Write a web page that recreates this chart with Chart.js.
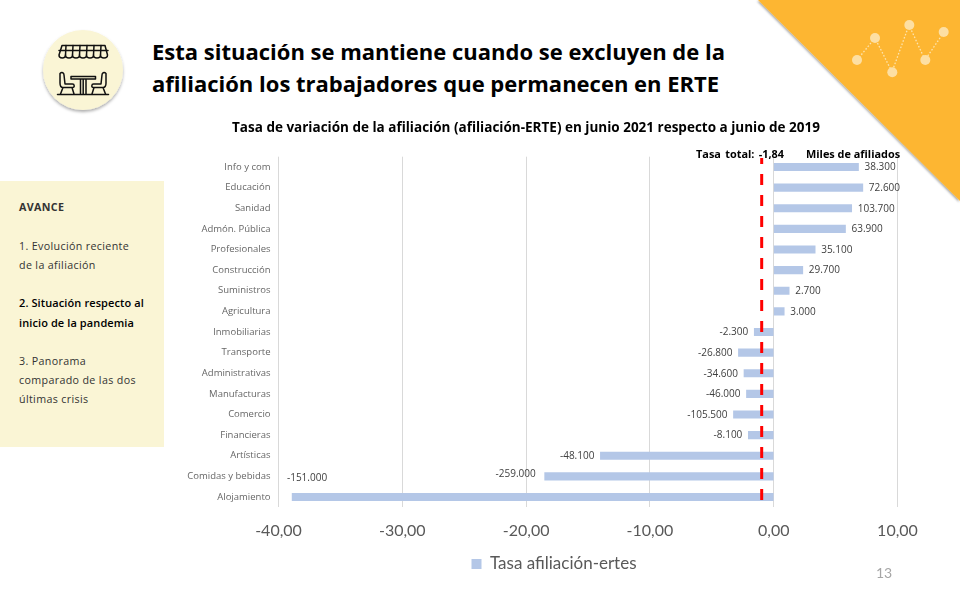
<!DOCTYPE html>
<html lang="es">
<head>
<meta charset="utf-8">
<script src="https://cdn.jsdelivr.net/npm/chart.js@4"></script>
<style>
html,body{margin:0;padding:0;background:#fff;width:960px;height:600px;overflow:hidden}
#slide{position:relative;width:960px;height:600px}
.abs{position:absolute;white-space:nowrap}
#headline{left:152px;top:35px;font:700 22px/32px "Open Sans",sans-serif;color:#000}
#side{left:0;top:181px;width:164px;height:266px;background:#FAF5D5}
.sl{position:absolute;left:19px;font:400 10.7px/14px "Open Sans",sans-serif;color:#333;white-space:nowrap;letter-spacing:.35px}
.top-note{top:147px;font:700 10.9px/13px "Open Sans",sans-serif;color:#000}
#page{left:876px;top:565px;font:14px/16px Lato,sans-serif;color:#A6A6A6}
canvas{position:absolute;left:92px;top:0}
svg{position:absolute;left:0;top:0}
</style>
</head>
<body>
<div id="slide">
<svg width="960" height="600" viewBox="0 0 960 600">
  <defs>
    <filter id="sh" x="-20%" y="-20%" width="140%" height="140%"><feDropShadow dx="0" dy="2" stdDeviation="1.6" flood-color="#000" flood-opacity=".32"/></filter>
    <filter id="sh2" x="-10%" y="-10%" width="120%" height="120%"><feDropShadow dx="-1" dy="1" stdDeviation="1" flood-color="#000" flood-opacity=".35"/></filter>
  </defs>
  <polygon points="758,0 960,0 960,201" fill="#FDB632" filter="url(#sh2)"/>
  <g stroke="#FDE3AE" stroke-width="1.3" stroke-dasharray="1.6 1.8" fill="none">
    <polyline points="857,60 875,38 892,72 909,25 925,60 944,32"/>
  </g>
  <g fill="#FDDFA3">
    <circle cx="857" cy="60" r="5"/><circle cx="875" cy="38" r="5"/><circle cx="892.3" cy="72.3" r="5"/>
    <circle cx="909.3" cy="25" r="5"/><circle cx="925.3" cy="60" r="5"/><circle cx="943.7" cy="32" r="5"/>
  </g>
  <circle cx="83" cy="70" r="40" fill="#FAF5D5" filter="url(#sh)"/>
  <g fill="none" stroke="#111" stroke-width="1.5" stroke-linecap="round" stroke-linejoin="round">
    <path d="M62,45.5H105L107.5,55C107.5,59 100.5,59 100.5,55C100.5,59 93.5,59 93.5,55C93.5,59 86.5,59 86.5,55C86.5,59 79.5,59 79.5,55C79.5,59 72.5,59 72.5,55C72.5,59 65.5,59 65.5,55C65.5,59 59,59 59,55Z"/>
    <path d="M59,50.5H108M66,45.5L65.5,55M73,45.5L72.5,55M80,45.5L79.5,55M87,45.5L86.5,55M94,45.5L93.5,55M101,45.5L100.5,55"/>
    <path d="M57.5,94.5H108.5"/>
    <path d="M71,76.5H95.5V79H71ZM80.5,79V94M86,79V94M83.2,79V94"/>
    <path d="M60,73.5C62,71.5 64,73 64,75L65,84H72.5C74.5,84 75,87.5 72.5,87.5H63C60.5,87.5 60,85 60,83ZM63,87.5L60.5,94M72,87.5L74,94"/>
    <path d="M106,73.5C104,71.5 102,73 102,75L101,84H93.5C91.5,84 91,87.5 93.5,87.5H103C105.5,87.5 106,85 106,83ZM103,87.5L105.5,94M94,87.5L92,94"/>
  </g>
</svg>
<div id="side" class="abs"></div>
<div id="headline" class="abs">Esta situación se mantiene cuando se excluyen de la<br>afiliación los trabajadores que permanecen en ERTE</div>
<div class="sl" style="top:200px;font-weight:700">AVANCE</div>
<div class="sl" style="top:239px">1. Evolución reciente</div>
<div class="sl" style="top:258px">de la afiliación</div>
<div class="sl" style="top:296px;font-weight:600;color:#000;font-size:11px;letter-spacing:.1px">2. Situación respecto al</div>
<div class="sl" style="top:316px;font-weight:600;color:#000;font-size:11px;letter-spacing:.1px">inicio de la pandemia</div>
<div class="sl" style="top:354px">3. Panorama</div>
<div class="sl" style="top:373px">comparado de las dos</div>
<div class="sl" style="top:392px">últimas crisis</div>
<canvas id="c" width="868" height="600"></canvas>
<div class="abs top-note" style="left:696px;word-spacing:1.5px">Tasa total: -1,84</div>
<div class="abs top-note" style="left:806px">Miles de afiliados</div>
<div id="page" class="abs">13</div>
</div>
<script>
const categories = ["Info y com","Educación","Sanidad","Admón. Pública","Profesionales","Construcción","Suministros","Agricultura","Inmobiliarias","Transporte","Administrativas","Manufacturas","Comercio","Financieras","Artísticas","Comidas y bebidas","Alojamiento"];
const tasaAfiliacion = [6.85,7.2,6.3,5.8,3.35,2.35,1.25,0.85,-1.57,-2.85,-2.4,-2.2,-3.25,-2.05,-14.0,-18.5,-38.9];
const milesAfiliados = ["38.300","72.600","103.700","63.900","35.100","29.700","2.700","3.000","-2.300","-26.800","-34.600","-46.000","-105.500","-8.100","-48.100","-259.000","-151.000"];
const tasaTotalDibujada = -0.97;
const seriesName = "Tasa afiliación-ertes";
const chartTitle = "Tasa de variación de la afiliación (afiliación-ERTE) en junio 2021 respecto a junio de 2019";

const labelNudge = {"Comidas y bebidas":[-3,-3],"Alojamiento":[41,-19]};

const barLabels = {
  id:"barLabels",
  afterDatasetsDraw(chart){
    const ctx = chart.ctx, bars = chart.getDatasetMeta(0).data;
    ctx.save();
    ctx.font = '10px "Open Sans",sans-serif';
    ctx.fillStyle = "#404040";
    ctx.textBaseline = "middle";
    bars.forEach((b,i)=>{
      const neg = tasaAfiliacion[i] < 0;
      const n = labelNudge[categories[i]] || [0,0];
      ctx.textAlign = neg ? "right" : "left";
      ctx.fillText(milesAfiliados[i], b.x + (neg ? -6 : 6) + n[0], b.y + 0.5 + n[1]);
    });
    ctx.restore();
  }
};
const placeLegend = {
  id:"placeLegend",
  afterLayout(chart){
    const l = chart.legend;
    l.left += 28; l.right += 28;
    const h = l.bottom - l.top;
    l.top = 545.5; l.bottom = 545.5 + h;
  }
};

new Chart(document.getElementById("c"),{
  type:"bar",
  data:{
    labels:categories,
    datasets:[
      {type:"bar",indexAxis:"y",label:seriesName,data:tasaAfiliacion,backgroundColor:"#B4C7E7",barThickness:7.5,order:2,xAxisID:"x",yAxisID:"y"},
      {type:"scatter",label:"Tasa total",showLine:true,data:[{x:tasaTotalDibujada,y:0.0208},{x:tasaTotalDibujada,y:0.9963}],
       borderColor:"#FF0000",borderWidth:3,borderDash:[11,10],pointRadius:0,order:1,xAxisID:"x",yAxisID:"y2"}
    ]
  },
  options:{
    responsive:false,
    animation:false,
    devicePixelRatio:1,
    layout:{padding:{left:62.5,right:62.5,top:0,bottom:0}},
    scales:{
      x:{type:"linear",min:-40,max:10,position:"bottom",offset:false,
         ticks:{stepSize:10,color:"#595959",padding:14,maxRotation:0,font:{family:"Lato",size:16},
                callback:v=>v.toFixed(2).replace(".",",")},
         grid:{color:"#D9D9D9",lineWidth:1,drawTicks:false,offset:false},border:{display:false},
         afterFit(s){s.height=55.7;}},
      y:{type:"category",position:"left",offset:true,
         ticks:{color:"#666666",padding:8,autoSkip:false,font:{family:"Open Sans",size:9.5,weight:"400"}},
         grid:{display:false,drawTicks:false},border:{display:false},
         afterFit(s){s.width=124;}},
      y2:{type:"linear",min:0,max:1,display:false}
    },
    plugins:{
      title:{display:true,text:chartTitle,color:"#000",font:{family:"Open Sans",size:13.5,weight:"700"},padding:{top:120.5,bottom:20}},
      legend:{display:true,position:"bottom",
        labels:{boxWidth:10,boxHeight:10,padding:10,color:"#595959",font:{family:"Lato",size:17},
                filter:i=>i.datasetIndex===0}},
      tooltip:{enabled:false}
    }
  },
  plugins:[barLabels,placeLegend]
});
</script>
</body>
</html>
